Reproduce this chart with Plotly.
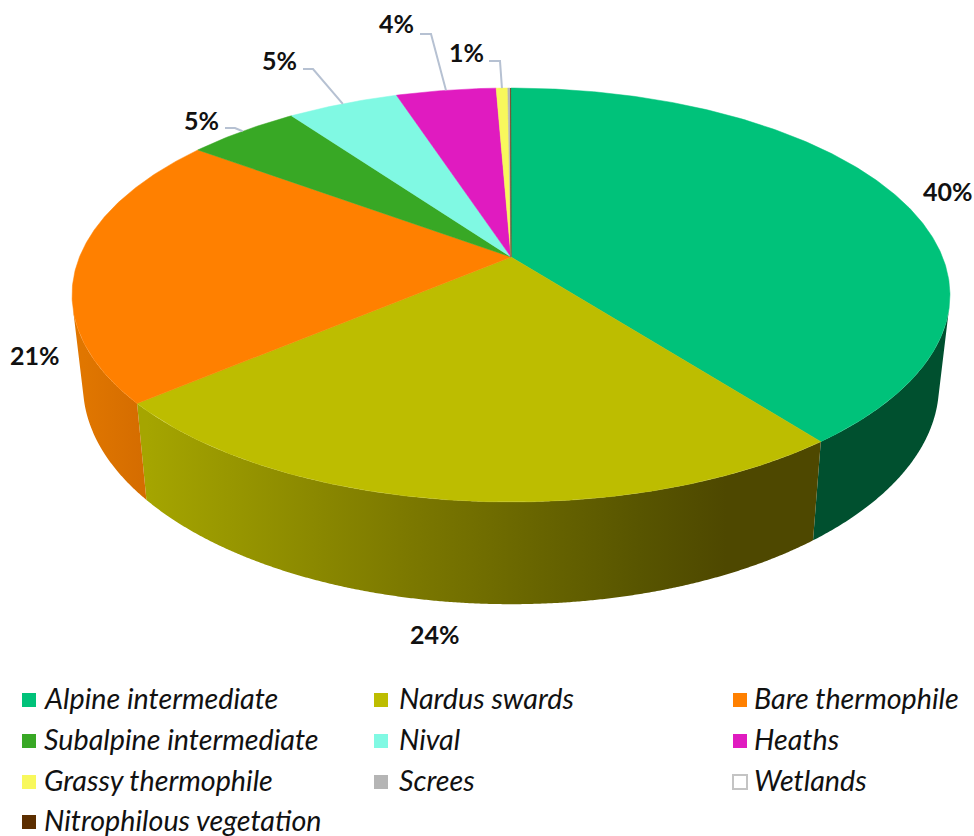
import math
import plotly.graph_objects as go

categories = ["Alpine intermediate", "Nardus swards", "Bare thermophile",
              "Subalpine intermediate", "Nival", "Heaths",
              "Grassy thermophile", "Screes", "Wetlands", "Nitrophilous vegetation"]
values = [39.52, 24.38, 21.3, 4.95, 4.9, 4.4, 0.51, 0.12, 0.0, 0.02]
top_colors = ["#00C27A", "#BDBD00", "#FF8000", "#38A825", "#80F9E3", "#E01BC0",
              "#F8F85C", "#B5B5B5", "#FFFFFF", "#5C2E00"]
# Wall gradients (left to right); only the three front slices show a wall.
side_stops = {
    0: [(0, "rgb(0,80,47)"), (1, "rgb(0,80,47)")],
    1: [(0, "rgb(165,165,0)"), (0.38, "rgb(125,122,0)"), (0.74, "rgb(88,85,0)"),
        (0.87, "rgb(78,72,0)"), (1, "rgb(78,72,0)")],
    2: [(0, "rgb(224,118,0)"), (1, "rgb(212,108,0)")],
}

CX, CY = 511, 257
A, B, K = 431.5, 200, 0.1836
S, D, C = 0.975, 88, 1.058


def proj(theta):
    X, Y = math.sin(theta), -math.cos(theta)
    w = 1 - K * Y
    return X / w, Y / w


def top(theta):
    u, v = proj(theta)
    return CX + A * u, CY + B * v


def bottom(theta):
    u, v = proj(theta)
    return CX + S * A * u, CY + D + C * B * v


def faces_viewer(theta):
    h = 1e-4
    t0, t1 = top(theta - h), top(theta + h)
    tx, ty = t1[0] - t0[0], t1[1] - t0[1]
    p, q = top(theta), bottom(theta)
    return tx * (q[1] - p[1]) - ty * (q[0] - p[0]) < 0


total = sum(values)
edges = [0.0]
for val in values:
    edges.append(edges[-1] + val / total * 2 * math.pi)

fig = go.Figure()

# side walls: only the part of each slice's wall that faces the viewer
for i, stops in side_stops.items():
    a0, a1 = edges[i], edges[i + 1]
    n = 400
    angles = [t for t in (a0 + (a1 - a0) * j / n for j in range(n + 1)) if faces_viewer(t)]
    up = [top(t) for t in angles]
    lo = [bottom(t) for t in reversed(angles)]
    pts = up + lo + [up[0]]
    xs = [p[0] for p in lo]
    fig.add_trace(go.Scatter(
        x=[p[0] for p in pts], y=[p[1] for p in pts], mode="none", fill="toself",
        fillgradient=dict(type="horizontal", colorscale=[list(s) for s in stops],
                          start=min(xs), stop=max(xs)),
        hoverinfo="skip", showlegend=False))

# top face
for i, val in enumerate(values):
    a0, a1 = edges[i], edges[i + 1]
    if a1 <= a0:
        continue
    n = max(2, int((a1 - a0) / math.radians(0.5)))
    rim = [top(a0 + (a1 - a0) * j / n) for j in range(n + 1)]
    fig.add_trace(go.Scatter(
        x=[CX] + [r[0] for r in rim] + [CX], y=[CY] + [r[1] for r in rim] + [CY],
        mode="lines", fill="toself", fillcolor=top_colors[i],
        line=dict(color=top_colors[i], width=0.5), hoverinfo="skip", showlegend=False))

# leader lines
LINE = "#B6C1D2"
leaders = {3: (225, 128, 235), 4: (303, 69, 313), 5: (420, 34, 431), 6: (489, 61, 500)}
for i, (x0, y0, x1) in leaders.items():
    ex, ey = top((edges[i] + edges[i + 1]) / 2)
    fig.add_trace(go.Scatter(x=[x0, x1, ex], y=[y0, y0, ey], mode="lines",
                             line=dict(color=LINE, width=2), hoverinfo="skip", showlegend=False))

# data labels
label_pos = [(948, 191), (435, 634), (35, 355), (201, 120), (279, 60), (396, 23), (466, 52)]
annotations = []
for val, (x, y) in zip(values, label_pos):
    annotations.append(dict(x=x, y=y, xref="x", yref="y", text="<b>%.0f%%</b>" % val, showarrow=False,
                            font=dict(family="Lato", size=25, color="#111111"),
                            xanchor="center", yanchor="middle"))

# legend
col_x = [29, 381, 740]
text_x = [42, 397, 752]
row_y = [700, 741, 782, 822]
for i, name in enumerate(categories):
    r, c = divmod(i, 3)
    outline = "#C4C4C4" if name == "Wetlands" else top_colors[i]
    fig.add_trace(go.Scatter(x=[col_x[c]], y=[row_y[r]], mode="markers",
                             marker=dict(symbol="square", size=14, color=top_colors[i],
                                         line=dict(color=outline, width=2 if name == "Wetlands" else 0)),
                             hoverinfo="skip", showlegend=False))
    annotations.append(dict(x=text_x[c], y=row_y[r] - 2, xref="x", yref="y", text="<i>%s</i>" % name,
                            showarrow=False, font=dict(family="Lato", size=28.7, color="#111111"),
                            xanchor="left", yanchor="middle"))

fig.update_layout(width=974, height=836, autosize=False, margin=dict(l=0, r=0, t=0, b=0),
                  paper_bgcolor="white", plot_bgcolor="white", annotations=annotations,
                  xaxis=dict(range=[0, 974], visible=False, fixedrange=True),
                  yaxis=dict(range=[836, 0], visible=False, fixedrange=True))
fig.write_html("out.html", config=dict(displayModeBar=False),
               post_script="document.body.style.margin='0';document.body.style.overflow='hidden';")
